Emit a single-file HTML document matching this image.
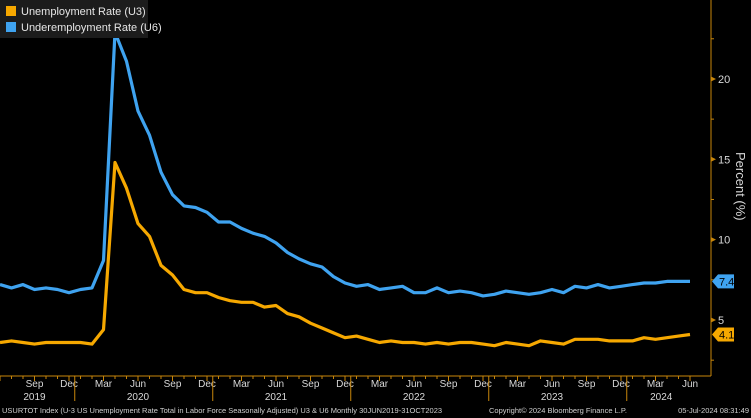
<!DOCTYPE html>
<html><head><meta charset="utf-8"><style>
html,body{margin:0;padding:0;background:#000;width:751px;height:418px;overflow:hidden}
svg text{font-family:"Liberation Sans",sans-serif}
</style></head><body>
<svg id="s" width="751" height="418" xmlns="http://www.w3.org/2000/svg">
<rect width="751" height="418" fill="#000"/>
<line x1="711" y1="0" x2="711" y2="376" stroke="#c8860a" stroke-width="1"/>
<line x1="0" y1="376" x2="711" y2="376" stroke="#c8860a" stroke-width="1"/>
<g id="g"></g>
<rect x="0" y="0" width="148" height="38" fill="#1c1c1c"/>
<rect x="6" y="6" width="10" height="10" fill="#f6a800"/>
<rect x="6" y="22" width="10" height="10" fill="#3fa3f0"/>
<text x="21" y="15" fill="#e6e6e6" font-size="11">Unemployment Rate (U3)</text>
<text x="21" y="31" fill="#e6e6e6" font-size="11">Underemployment Rate (U6)</text>
<text transform="translate(736,152) rotate(90)" fill="#d8d8d8" font-size="13">Percent (%)</text>
<text x="2" y="413" fill="#d0d0d0" font-size="7.5">USURTOT Index (U-3 US Unemployment Rate Total in Labor Force Seasonally Adjusted) U3 &amp; U6  Monthly 30JUN2019-31OCT2023</text>
<text x="489" y="413" fill="#d0d0d0" font-size="7.5">Copyright© 2024 Bloomberg Finance L.P.</text>
<text x="749" y="413" fill="#d0d0d0" font-size="7.5" text-anchor="end">05-Jul-2024 08:31:49</text>
</svg>
<script>
var u3=[3.6,3.7,3.6,3.5,3.6,3.6,3.6,3.6,3.5,4.4,14.8,13.2,11.0,10.2,8.4,7.8,6.9,6.7,6.7,6.4,6.2,6.1,6.1,5.8,5.9,5.4,5.2,4.8,4.5,4.2,3.9,4.0,3.8,3.6,3.7,3.6,3.6,3.5,3.6,3.5,3.6,3.6,3.5,3.4,3.6,3.5,3.4,3.7,3.6,3.5,3.8,3.8,3.8,3.7,3.7,3.7,3.9,3.8,3.9,4.0,4.1];
var u6=[7.2,7.0,7.2,6.9,7.0,6.9,6.7,6.9,7.0,8.7,22.9,21.1,18.0,16.5,14.2,12.8,12.1,12.0,11.7,11.1,11.1,10.7,10.4,10.2,9.8,9.2,8.8,8.5,8.3,7.7,7.3,7.1,7.2,6.9,7.0,7.1,6.7,6.7,7.0,6.7,6.8,6.7,6.5,6.6,6.8,6.7,6.6,6.7,6.9,6.7,7.1,7.0,7.2,7.0,7.1,7.2,7.3,7.3,7.4,7.4,7.4];
function X(i){return i*11.5;}function Y(v){return 320-(v-5)*16.07;}
var h='';
function line(d,c){var p=d.map(function(v,i){return X(i).toFixed(1)+','+Y(v).toFixed(1)}).join(' ');h+='<polyline points="'+p+'" fill="none" stroke="'+c+'" stroke-width="3.2" stroke-linejoin="round"/>';}
line(u6,'#3fa3f0');line(u3,'#f6a800');
[5,10,15,20].forEach(function(v){var y=Y(v);h+='<polygon points="711,'+(y-2.5)+' 716,'+y+' 711,'+(y+2.5)+'" fill="#c8860a"/><text x="718" y="'+(y+4)+'" fill="#d8d8d8" font-size="11">'+v+'</text>';});
[7.5,12.5,17.5,22.5,2.5].forEach(function(v){var y=Y(v);h+='<line x1="711" y1="'+y+'" x2="714" y2="'+y+'" stroke="#c8860a"/>';});
for(var i=0;i<61;i++){h+='<line x1="'+X(i)+'" y1="376" x2="'+X(i)+'" y2="'+(i%3==0?381:379)+'" stroke="#c8860a"/>';}
var mn=['Sep','Dec','Mar','Jun'];
for(var i=3;i<61;i+=3){h+='<text x="'+X(i)+'" y="387" fill="#d8d8d8" font-size="10" text-anchor="middle">'+mn[((i-3)/3)%4]+'</text>';}
[6.5,18.5,30.5,42.5,54.5].forEach(function(i){h+='<line x1="'+X(i)+'" y1="376" x2="'+X(i)+'" y2="401" stroke="#c8860a"/>';});
[['2019',3],['2020',12],['2021',24],['2022',36],['2023',48],['2024',57.5]].forEach(function(a){h+='<text x="'+X(a[1])+'" y="400" fill="#d8d8d8" font-size="10" text-anchor="middle">'+a[0]+'</text>';});
function tag(v,c,t){var y=Y(v);h+='<polygon points="712,'+y+' 718,'+(y-7)+' 734,'+(y-7)+' 734,'+(y+7)+' 718,'+(y+7)+'" fill="'+c+'"/><text x="719" y="'+(y+4)+'" fill="#000" font-size="11">'+t+'</text>';}
tag(7.4,'#3fa3f0','7.4');tag(4.1,'#f6a800','4.1');
document.getElementById('g').innerHTML=h;
</script>
</body></html>
